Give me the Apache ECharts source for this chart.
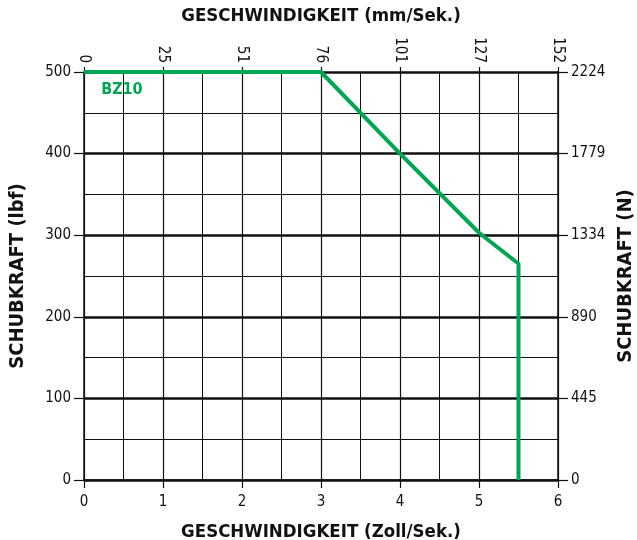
<!DOCTYPE html>
<html>
<head>
<meta charset="utf-8">
<script src="https://cdn.jsdelivr.net/npm/echarts@6/dist/echarts.min.js"></script>
<style>html,body{margin:0;padding:0;background:#fff}#c{width:637px;height:540px}</style>
</head>
<body>
<div id="c"></div>
<script>
var speedInch = [0, 3, 4, 5, 5.5, 5.5];
var forceLbf = [500, 500, 400, 303, 265, 0];
var mmLabels = ['0', '25', '51', '76', '101', '127', '152'];
var nLabels = ['0', '445', '890', '1334', '1779', '2224'];
var seriesName = 'BZ10';
var labelPos = [0.48, 478];

var FONT = '"Liberation Sans Narrow", "DejaVu Sans Condensed", "Liberation Sans", sans-serif';
var GREEN = '#00A651';
var chart = echarts.init(document.getElementById('c'), null, {renderer: 'canvas'});
var tick = {show: true, length: 10, inside: false, lineStyle: {color: '#111', width: 1.2}};
var lbl = {color: '#111', fontFamily: FONT, fontSize: 15};
var nameH = {color: '#111', fontFamily: FONT, fontSize: 18.5, fontWeight: 'bold'};
var nameV = {color: '#111', fontFamily: FONT, fontSize: 20, fontWeight: 'bold'};
var option = {
  animation: false,
  grid: {left: 84, right: 79, top: 72, bottom: 60, containLabel: false, outerBoundsMode: 'none'},
  xAxis: [{
    type: 'value', position: 'bottom', min: 0, max: 6, interval: 1,
    name: 'GESCHWINDIGKEIT (Zoll/Sek.)', nameLocation: 'middle', nameGap: 43, nameTextStyle: nameH,
    axisLine: {show: true, onZero: false, lineStyle: {color: '#111', width: 1.5}},
    axisTick: {show: true, length: 8, lineStyle: {color: '#111', width: 1.2}},
    axisLabel: Object.assign({margin: 15}, lbl),
    splitLine: {show: true, lineStyle: {color: '#111', width: 1.2}},
    minorTick: {show: false, splitNumber: 2},
    minorSplitLine: {show: true, lineStyle: {color: '#111', width: 1}}
  }, {
    type: 'value', position: 'top', min: 0, max: 6, interval: 1,
    name: 'GESCHWINDIGKEIT (mm/Sek.)', nameLocation: 'middle', nameGap: 46, nameTextStyle: nameH,
    axisLine: {show: true, onZero: false, lineStyle: {color: '#111', width: 1.2}},
    axisTick: {show: true, length: 5, lineStyle: {color: '#111', width: 1.2}},
    axisLabel: Object.assign({margin: 9, rotate: 90, formatter: function (v) { return mmLabels[Math.round(v)]; }}, lbl),
    splitLine: {show: false}
  }],
  yAxis: [{
    type: 'value', position: 'left', min: 0, max: 500, interval: 100,
    name: 'SCHUBKRAFT (lbf)', nameLocation: 'middle', nameGap: 56, nameRotate: 90, nameTextStyle: nameV,
    axisLine: {show: true, onZero: false, lineStyle: {color: '#111', width: 1.5}},
    axisTick: tick,
    axisLabel: Object.assign({margin: 13}, lbl),
    splitLine: {show: true, lineStyle: {color: '#111', width: 2.5}},
    minorTick: {show: false, splitNumber: 2},
    minorSplitLine: {show: true, lineStyle: {color: '#111', width: 1}}
  }, {
    type: 'value', position: 'right', min: 0, max: 500, interval: 100,
    name: 'SCHUBKRAFT (N)', nameLocation: 'middle', nameGap: 56, nameRotate: 90, nameTextStyle: nameV,
    axisLine: {show: true, onZero: false, lineStyle: {color: '#111', width: 1.5}},
    axisTick: tick,
    axisLabel: Object.assign({margin: 13, formatter: function (v) { return nLabels[Math.round(v / 100)]; }}, lbl),
    splitLine: {show: false}
  }],
  series: [{
    name: seriesName, type: 'line', xAxisIndex: 0, yAxisIndex: 0,
    data: speedInch.map(function (x, i) { return [x, forceLbf[i]]; }),
    symbol: 'none', lineStyle: {color: GREEN, width: 4}, z: 5,
    markPoint: {
      symbol: 'circle', symbolSize: 0,
      label: {show: true, position: 'inside', formatter: seriesName, color: GREEN, fontFamily: FONT, fontSize: 16, fontWeight: 'bold'},
      data: [{coord: labelPos}]
    }
  }]
};
chart.setOption(option);
</script>
</body>
</html>
